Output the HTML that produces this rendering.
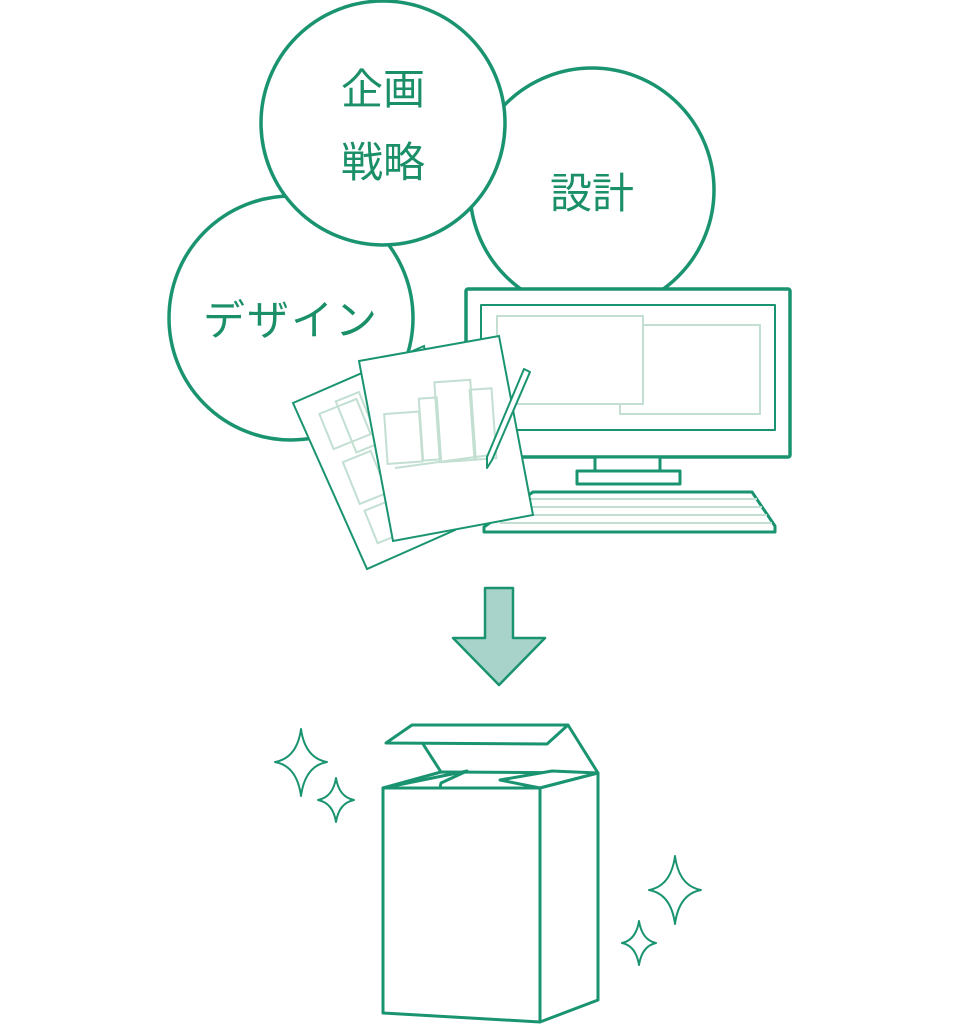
<!DOCTYPE html>
<html><head><meta charset="utf-8"><style>
html,body{margin:0;padding:0;background:#fff;}
svg{display:block;}
text{font-family:"Liberation Sans","Noto Sans CJK JP",sans-serif;fill:#1a8f68;font-size:42px;text-anchor:middle;}
</style></head><body>
<svg width="962" height="1025" viewBox="0 0 962 1025" xmlns="http://www.w3.org/2000/svg">
<g stroke="#1a9470" stroke-width="3.5" fill="#fff" stroke-linejoin="round">
<circle cx="592" cy="190" r="122"/>
<circle cx="291" cy="318" r="122"/>
<circle cx="383" cy="123" r="122"/>
</g>
<text x="383" y="104">企画</text>
<text x="383" y="177">戦略</text>
<text x="592" y="208">設計</text>
<text x="291" y="335" letter-spacing="2">デザイン</text>
<!-- monitor -->
<g stroke="#1a9470" fill="#fff" stroke-linejoin="round">
<rect x="466" y="289" width="324" height="168" stroke-width="3.5" rx="2"/>
<rect x="481" y="305" width="294" height="125" stroke-width="2"/>
<rect x="595" y="457" width="65" height="14" stroke-width="3"/>
<rect x="577" y="471" width="103" height="13" stroke-width="3"/>
<polygon points="533,492 752,492 775,526 775,532 484,532 484,527" stroke-width="3"/>
</g>
<g stroke="#c2dfd2" stroke-width="2" fill="none">
<rect x="497" y="316" width="146" height="88"/>
<polyline points="643,325 760,325 760,414 620,414 620,404"/>
<line x1="528" y1="499" x2="757" y2="499"/>
<line x1="522" y1="507" x2="762" y2="507"/>
<line x1="514" y1="515" x2="767" y2="515"/>
<line x1="500" y1="523" x2="772" y2="523"/>
</g>
<!-- papers -->
<g stroke="#1a9470" stroke-width="2" fill="#fff">
<polygon points="293,403 424,346 455,530 367,569"/>
</g>
<g stroke="#c2dfd2" stroke-width="2" fill="none">
<rect x="325" y="405" width="40" height="38" transform="rotate(-22 345 424)"/>
<rect x="345" y="395" width="25" height="55" transform="rotate(-22 357 422)"/>
<rect x="350" y="455" width="30" height="45" transform="rotate(-22 365 477)"/>
<rect x="370" y="505" width="25" height="35" transform="rotate(-22 382 522)"/>
</g>
<g stroke="#1a9470" stroke-width="2" fill="#fff">
<polygon points="359,361 499,336 533,515 393,541"/>
</g>
<g stroke="#c2dfd2" stroke-width="2" fill="none">
<rect x="386" y="413" width="35" height="50" transform="rotate(-4 400 440)"/>
<rect x="421" y="398" width="18" height="62" transform="rotate(-4 430 430)"/>
<rect x="437" y="381" width="36" height="80" transform="rotate(-4 455 420)"/>
<rect x="472" y="389" width="22" height="70" transform="rotate(-4 483 424)"/>
<line x1="395" y1="468" x2="490" y2="455"/>
</g>
<polygon points="524,369 530,372 492,460 487,468 487,457" fill="#fff" stroke="#1a9470" stroke-width="2" stroke-linejoin="round"/>
<!-- arrow -->
<polygon points="485,588 513,588 513,638 545,638 499,685 453,638 485,638" fill="#a8d3ca" stroke="#1a9470" stroke-width="2.5" stroke-linejoin="round"/>
<!-- box -->
<g stroke="#1a9470" stroke-width="3" fill="#fff" stroke-linejoin="round">
<polygon points="386,743 412,725 568,725 547,744"/>
<polyline points="423,744 441,772" fill="none"/>
<polyline points="568,725 598,773" fill="none"/>
<polygon points="441,772 598,773 540,788 383,788"/>
<polygon points="383,788 467,771 441,783 440,788"/>
<polygon points="500,780 552,771 598,773 540,788"/>
<polygon points="540,788 598,773 598,1000 540,1022"/>
<polygon points="383,788 540,788 540,1022 383,1013"/>
</g>
<!-- sparkles -->
<g stroke="#1a9470" stroke-width="2" fill="#fff" stroke-linejoin="round">
<path d="M301,729 Q305,758 327,762 Q305,766 301,796 Q297,766 275,762 Q297,758 301,729Z"/>
<path d="M336,778 Q339,797 354,800 Q339,803 336,822 Q333,803 318,800 Q333,797 336,778Z"/>
<path d="M675,856 Q679,886 701,890 Q679,894 675,924 Q671,894 649,890 Q671,886 675,856Z"/>
<path d="M639,921 Q642,940 656,943 Q642,946 639,965 Q636,946 622,943 Q636,940 639,921Z"/>
</g>
</svg>
</body></html>
